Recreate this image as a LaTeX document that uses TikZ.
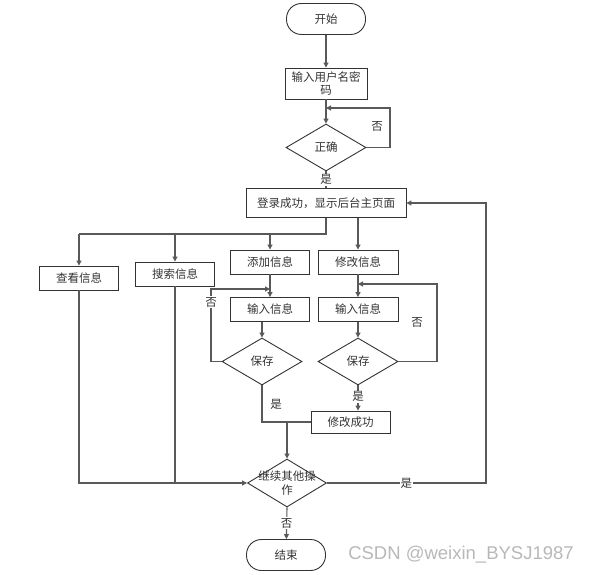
\documentclass[tikz,border=0pt]{standalone}
\usepackage{fontspec}
\setmainfont{Liberation Sans}
\newfontfamily\cjk{Noto Sans CJK SC}
\usetikzlibrary{shapes.geometric,arrows.meta}
\begin{document}
\begin{tikzpicture}[x=1pt,y=-1pt,
  every node/.style={font=\cjk\fontsize{11.5}{13.5}\selectfont, text=black!80},
  box/.style={draw=black!80, line width=0.9pt, minimum width=79pt, minimum height=24pt, inner sep=1pt, align=center},
  term/.style={draw=black!80, line width=0.9pt, rounded corners=15pt, minimum width=79pt, minimum height=31pt, inner sep=1pt},
  dia/.style={draw=black!80, line width=0.9pt, diamond, inner sep=0pt, minimum width=80pt, minimum height=47pt},
  txt/.style={inner sep=0pt, align=center},
  lbl/.style={fill=white, inner sep=1pt},
  line/.style={draw=black!65, line width=1.1pt},
  arr/.style={line, -{Triangle[length=5pt,width=5pt]}}
]
\useasboundingbox (0,0) rectangle (589,575);

% nodes
\node[term] (start) at (326,19) {开始};
\node[box, minimum width=82pt, minimum height=31pt, inner sep=0pt] (login) at (326,83.5) {输入用户名密\\码};
\node[dia] (chk) at (326,147.5) {};
\node[txt] (chkt) at (chk) {正确};
\node[box, minimum width=160pt, minimum height=29pt] (home) at (326,203) {登录成功，显示后台主页面};
\node[box] (view) at (79,278) {查看信息};
\node[box] (search) at (175,274) {搜索信息};
\node[box] (add) at (270,262) {添加信息};
\node[box, minimum width=80pt] (modify) at (358,262) {修改信息};
\node[box] (in1) at (270,309.5) {输入信息};
\node[box, minimum width=80pt] (in2) at (358,309.5) {输入信息};
\node[dia] (sv1) at (262,361.5) {};
\node[txt] (sv1t) at (sv1) {保存};
\node[dia] (sv2) at (358,361.5) {};
\node[txt] (sv2t) at (sv2) {保存};
\node[box, minimum height=22pt] (ok) at (350.5,422) {修改成功};
\node[dia, minimum width=79pt, minimum height=48pt] (cont) at (287,483) {};
\node[txt] (contt) at (287,483) {继续其他操\\作};
\node[term] (end) at (286,555) {结束};
\node[font=\fontsize{18.5}{20}\selectfont, text=black!28, inner sep=0pt] (wm) at (461,555) {CSDN @weixin\_BYSJ1987};

% bend coordinates
\coordinate (j1) at (326,108);
\coordinate (r1) at (390,108);
\coordinate (b0) at (326,234);
\coordinate (bl) at (79,234);
\coordinate (bs) at (175,234);
\coordinate (ba) at (270,234);
\coordinate (l1) at (211,289);
\coordinate (m1) at (270,289);
\coordinate (l2) at (437,284);
\coordinate (m2) at (358,284);
\coordinate (mg) at (287,422.5);
\coordinate (rb) at (486,483);
\coordinate (rt) at (486,203);

% connectors
\draw[arr] (start) -- (login);
\draw[arr] (login) -- (chk);
\draw[arr] (chk.east) -| (r1) -- (j1);
\node[lbl] (no1) at (377,126) {否};
\draw[line] (chk) -- node[lbl] (yes1) {是} (home);

\draw[line] (home.south) -- (b0) -- (bl);
\draw[arr] (bl) -- (view);
\draw[arr] (bs) -- (search);
\draw[arr] (ba) -- (add);
\draw[arr] (home.south -| modify.north) -- (modify);

\draw[arr] (add) -- (in1);
\draw[arr] (in1.south -| sv1.north) -- (sv1.north);
\draw[arr] (sv1.west) -| (l1) -- (m1);
\node[lbl] (no2) at (211,302) {否};

\draw[arr] (modify) -- (in2);
\draw[arr] (in2) -- (sv2);
\draw[arr] (sv2.east) -| (l2) -- (m2);
\node[lbl] (no3) at (417,322) {否};

\draw[arr] (sv2.south) -- node[lbl, pos=0.45] (yes2) {是} (sv2.south |- ok.north);
\draw[line] (sv1.south) |- (ok.west);
\node[lbl] (yes3) at (276,404) {是};
\draw[arr] (mg) -- (cont.north);

\draw[line] (view.south) |- (search.south |- cont.west);
\draw[line] (search.south) -- (search.south |- cont.west);
\draw[arr] (search.south |- cont.west) -- (cont.west);

\draw[arr] (cont.east) -- node[lbl, pos=0.5] (yes4) {是} (rb) -- (rt) -- (home.east);
\draw[arr] (cont.south) -- node[lbl] (no4) {否} (end);
\end{tikzpicture}
\end{document}
